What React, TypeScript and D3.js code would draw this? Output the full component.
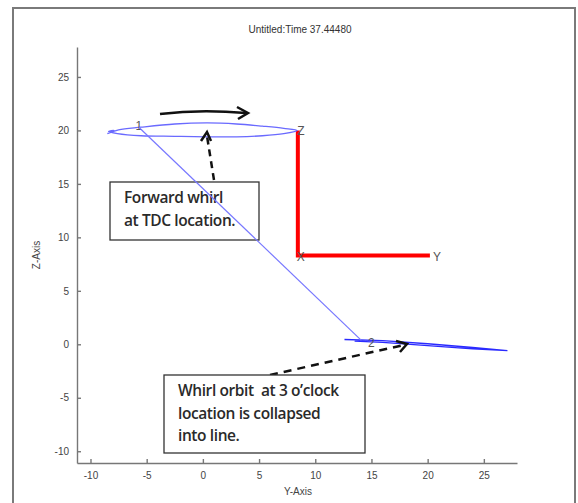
import React, { useEffect, useRef } from 'react';
import * as d3 from 'd3';

// axis ticks
const yTicks = [-10, -5, 0, 5, 10, 15, 20, 25];
const zTicks = [-10, -5, 0, 5, 10, 15, 20, 25];

// whirl orbit at TDC (Y, Z)
const orbitTdcY = [-8.5, -7.5, -5.5, -2.5, 0.4, 3.0, 5.3, 7.2, 8.4, 7.2, 5.3, 3.0, 0.4, -2.5, -5.5, -7.6, -8.4, -7.9, -8.5];
const orbitTdcZ = [19.7, 20.05, 20.3, 20.6, 20.7, 20.6, 20.4, 20.2, 20.0, 19.7, 19.5, 19.4, 19.4, 19.45, 19.5, 19.7, 19.9, 20.0, 19.7];

// collapsed orbit at 3 o'clock
const orbit3Y = [12.6, 16.0, 20.0, 24.0, 27.1, 24.0, 20.0, 16.0, 13.5];
const orbit3Z = [0.45, 0.35, 0.05, -0.3, -0.6, -0.42, -0.12, 0.18, 0.3];

// shaft line between the two points
const shaftY = [-5.7, 14.1];
const shaftZ = [20.3, 0.37];

// coordinate triad (red)
const triadY = [8.45, 8.45, 20.2];
const triadZ = [20.0, 8.3, 8.3];
const triadLabels = ['Z', 'X', 'Y'];

const pointLabels = [
  { text: '1', y: -5.7, z: 20.4 },
  { text: '2', y: 15.0, z: 0.15 },
];

const W = 578;
const H = 503;
const plot = { left: 77, right: 517, top: 47, bottom: 463 };

export default function App() {
  const ref = useRef<SVGSVGElement>(null);

  useEffect(() => {
    const svg = d3.select(ref.current);
    svg.selectAll('*').remove();

    const x = d3.scaleLinear().domain([-11.2, 27.95]).range([plot.left, plot.right]);
    const y = d3.scaleLinear().domain([-11.1, 27.8]).range([plot.bottom, plot.top]);

    svg.append('rect').attr('width', W).attr('height', H).attr('fill', '#fff');
    // outer frame
    svg.append('rect')
      .attr('x', 13).attr('y', 8).attr('width', 562).attr('height', 510)
      .attr('fill', 'none').attr('stroke', '#7a7a7a').attr('stroke-width', 2);

    svg.append('text')
      .attr('x', 300).attr('y', 33).attr('text-anchor', 'middle')
      .attr('font-family', 'Liberation Sans, Arial, sans-serif').attr('font-size', 10)
      .attr('fill', '#333').text('Untitled:Time 37.44480');

    const styleAxis = (g: any) => {
      g.selectAll('path,line').attr('stroke', '#777').attr('stroke-width', 1.4);
      g.selectAll('text').attr('fill', '#444').attr('font-size', 10)
        .attr('font-family', 'Liberation Sans, Arial, sans-serif');
    };

    const gx = svg.append('g').attr('transform', `translate(0,${plot.bottom})`)
      .call(d3.axisBottom(x).tickValues(yTicks).tickFormat(d => String(d))
        .tickSizeInner(-4).tickSizeOuter(0).tickPadding(9));
    styleAxis(gx);
    const gy = svg.append('g').attr('transform', `translate(${plot.left},0)`)
      .call(d3.axisLeft(y).tickValues(zTicks).tickFormat(d => String(d))
        .tickSizeInner(-4).tickSizeOuter(0).tickPadding(8));
    styleAxis(gy);

    svg.append('text')
      .attr('x', (plot.left + plot.right) / 2 + 1).attr('y', 495).attr('text-anchor', 'middle')
      .attr('font-family', 'Liberation Sans, Arial, sans-serif').attr('font-size', 10)
      .attr('fill', '#444').text('Y-Axis');
    svg.append('text')
      .attr('transform', `translate(40,${(plot.top + plot.bottom) / 2}) rotate(-90)`)
      .attr('text-anchor', 'middle')
      .attr('font-family', 'Liberation Sans, Arial, sans-serif').attr('font-size', 10)
      .attr('fill', '#444').text('Z-Axis');

    // red triad
    svg.append('path')
      .attr('d', d3.line<number>().x(i => x(triadY[i])).y(i => y(triadZ[i]))(d3.range(triadY.length)))
      .attr('fill', 'none').attr('stroke', '#ff0000').attr('stroke-width', 4);
    triadLabels.forEach((t, i) => {
      svg.append('text')
        .attr('x', x(triadY[i]) + 3).attr('y', y(triadZ[i]) + 5)
        .attr('text-anchor', i === 2 ? 'start' : 'middle')
        .attr('font-family', 'Liberation Sans, Arial, sans-serif').attr('font-size', 12)
        .attr('fill', '#555').text(t);
    });

    // shaft
    const shaftPath = d3.line<number>().x(i => x(shaftY[i])).y(i => y(shaftZ[i]))([0, 1]);

    // orbit at TDC
    svg.append('path')
      .attr('d', d3.line<number>().curve(d3.curveCatmullRom)
        .x(i => x(orbitTdcY[i])).y(i => y(orbitTdcZ[i]))(d3.range(orbitTdcY.length)))
      .attr('fill', 'none').attr('stroke', '#6a6aff').attr('stroke-width', 1.3);

    // collapsed orbit
    svg.append('path')
      .attr('d', d3.line<number>().x(i => x(orbit3Y[i])).y(i => y(orbit3Z[i]))(d3.range(orbit3Y.length)))
      .attr('fill', 'none').attr('stroke', '#2a2aff').attr('stroke-width', 1.3);

    pointLabels.forEach(p => {
      svg.append('text')
        .attr('x', x(p.y)).attr('y', y(p.z) + 4).attr('text-anchor', 'middle')
        .attr('font-family', 'Liberation Sans, Arial, sans-serif').attr('font-size', 12)
        .attr('fill', '#555').text(p.text);
    });

    // annotations
    const ink = '#111';
    // curved arrow above orbit
    svg.append('path').attr('d', 'M160,114 Q200,109 246,113')
      .attr('fill', 'none').attr('stroke', ink).attr('stroke-width', 2.5);
    svg.append('path').attr('d', 'M237,107 L248,113 L238,119')
      .attr('fill', 'none').attr('stroke', ink).attr('stroke-width', 2.5);

    // dashed arrow to orbit
    svg.append('path').attr('d', 'M214,180 L207,136')
      .attr('fill', 'none').attr('stroke', ink).attr('stroke-width', 2.5).attr('stroke-dasharray', '7,5');
    svg.append('path').attr('d', 'M201,141 L207,132 L211,141')
      .attr('fill', 'none').attr('stroke', ink).attr('stroke-width', 2.5);

    // dashed arrow to collapsed orbit
    svg.append('path').attr('d', 'M270,375 L404,345')
      .attr('fill', 'none').attr('stroke', ink).attr('stroke-width', 2.5).attr('stroke-dasharray', '8,6');
    svg.append('path').attr('d', 'M396,341 L407,344 L400,352')
      .attr('fill', 'none').attr('stroke', ink).attr('stroke-width', 2.5);

    const box = (bx: number, by: number, bw: number, bh: number, lines: string[]) => {
      svg.append('rect').attr('x', bx).attr('y', by).attr('width', bw).attr('height', bh)
        .attr('fill', '#fff').attr('stroke', '#333').attr('stroke-width', 1.3);
      lines.forEach((t, i) => {
        svg.append('text').attr('x', bx + 14).attr('y', by + 21 + i * 22.5)
          .attr('font-family', 'Open Sans, sans-serif').attr('font-size', 15.5)
          .attr('font-weight', 600).attr('letter-spacing', -0.4)
          .attr('fill', '#2a2a2a').style('white-space', 'pre').text(t);
      });
    };
    box(110, 182, 149, 58, ['Forward whirl', 'at TDC location.']);
    box(164, 375, 201, 78, ['Whirl orbit  at 3 o\u2019clock', 'location is collapsed', 'into line.']);

    // shaft line drawn over the first box
    svg.append('path').attr('d', shaftPath)
      .attr('fill', 'none').attr('stroke', '#7878ff').attr('stroke-width', 1.2);
  }, []);

  return (
    <svg ref={ref} width={W} height={H} style={{ position: 'absolute', left: 0, top: 0 }} />
  );
}
